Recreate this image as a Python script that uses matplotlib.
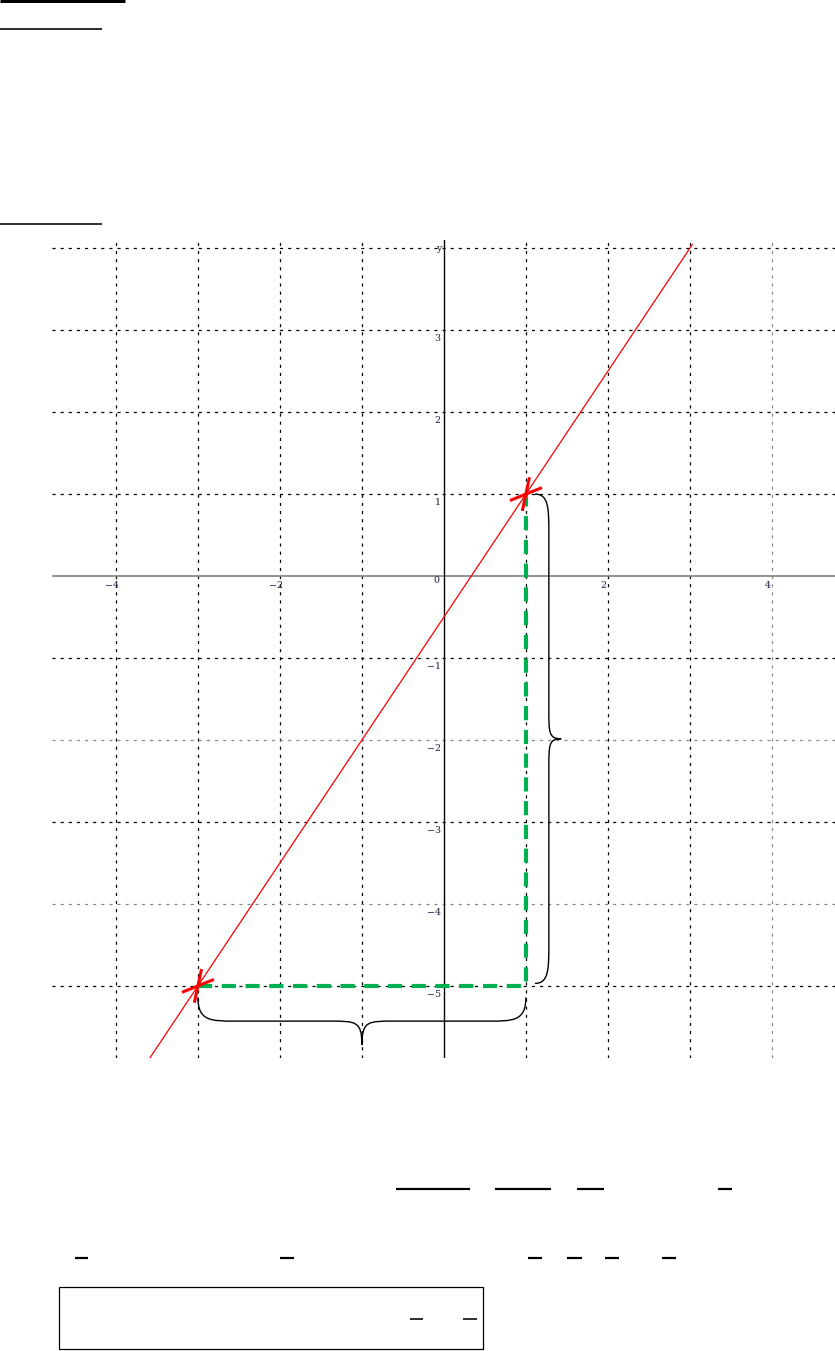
import numpy as np
import matplotlib
matplotlib.use("Agg")
import matplotlib.pyplot as plt
from matplotlib.lines import Line2D
from matplotlib.patches import PathPatch, Rectangle
from matplotlib.path import Path

W, H = 835, 1351

# chart data
x_ticks = [-4, -3, -2, -1, 1, 2, 3, 4]
y_ticks = [-5, -4, -3, -2, -1, 1, 2, 3, 4]
x_labels = {-4: "\u22124", -2: "\u22122", 2: "2", 4: "4"}
y_labels = {-5: "\u22125", -4: "\u22124", -3: "\u22123", -2: "\u22122", -1: "\u22121",
            1: "1", 2: "2", 3: "3"}
grey_x = [4]
grey_y = [-2, -4]
pts_x = [-3, 1]
pts_y = [-5, 1]
line_x = [-3.62, 3.03]
corner = (1, -5)

# page layout (pixels): remaining rules / fraction bars of the worksheet
rules = [(0, 125, 1, 3.0), (0, 102, 29, 1.6), (0, 102, 224, 1.6)]
bars_row1 = [(396, 470), (495, 551), (577, 604), (718, 732)]
bars_row2 = [(75, 88), (280, 294), (528, 542), (567, 582), (605, 619), (662, 676)]
bars_box = [(410, 423), (463, 477)]


def fx(px):
    return px / W


def fy(py):
    return 1 - py / H


def hline(fig, x0, x1, y, lw):
    fig.add_artist(Line2D([fx(x0), fx(x1)], [fy(y), fy(y)], color="black",
                          lw=lw * 72 / 100, solid_capstyle="butt"))


def brace(ax, p0, p1, tip_dir, d_flat, d_tip, r, r_tip, **kw):
    p0, p1 = np.array(p0, float), np.array(p1, float)
    u = (p1 - p0) / np.linalg.norm(p1 - p0)
    n = np.array(tip_dir, float)
    L = np.linalg.norm(p1 - p0)
    def P(s, t):
        return p0 + u * s + n * t
    verts = [P(0, 0), P(0, d_flat), P(r * 0.35, d_flat), P(r, d_flat),
             P(L / 2 - r_tip, d_flat), P(L / 2 - r_tip * 0.2, d_flat), P(L / 2, d_flat), P(L / 2, d_tip),
             P(L / 2, d_flat), P(L / 2 + r_tip * 0.2, d_flat), P(L / 2 + r_tip, d_flat),
             P(L - r, d_flat), P(L - r * 0.35, d_flat), P(L, d_flat), P(L, 0)]
    codes = [Path.MOVETO, Path.CURVE4, Path.CURVE4, Path.CURVE4,
             Path.LINETO, Path.CURVE4, Path.CURVE4, Path.CURVE4,
             Path.CURVE4, Path.CURVE4, Path.CURVE4,
             Path.LINETO, Path.CURVE4, Path.CURVE4, Path.CURVE4]
    ax.add_patch(PathPatch(Path(verts, codes), fill=False, **kw))


fig = plt.figure(figsize=(W / 100, H / 100), dpi=100)

for x0, x1, y, lw in rules:
    hline(fig, x0, x1, y, lw)
for x0, x1 in bars_row1:
    hline(fig, x0, x1, 1189, 2.2)
for x0, x1 in bars_row2:
    hline(fig, x0, x1, 1258, 2.2)
for x0, x1 in bars_box:
    hline(fig, x0, x1, 1319, 1.6)
fig.add_artist(Rectangle((fx(59), fy(1349)), fx(483) - fx(59), fy(1287) - fy(1349),
                         fill=False, ec="black", lw=0.9))

ax = fig.add_axes([fx(52), fy(1058), fx(835) - fx(52), fy(240) - fy(1058)])
ax.set_xlim(-4.78, 4.77)
ax.set_ylim(-5.88, 4.10)
ax.axis("off")

dots = (0, (2.5, 4))
for x in x_ticks:
    ax.axvline(x, color="#888888" if x in grey_x else "black", lw=0.9, ls=dots, zorder=1)
for y in y_ticks:
    ax.axhline(y, color="#888888" if y in grey_y else "black", lw=0.9, ls=dots, zorder=1)
ax.axhline(0, color="#808080", lw=1.2, zorder=2)
ax.axvline(0, color="black", lw=1.0, zorder=2)

tick_kw = dict(fontsize=6.8, color="#1c1c44", family="DejaVu Serif")
for x, s in x_labels.items():
    ax.text(x - 0.05, -0.12, s, ha="center", va="center", **tick_kw)
for y, s in y_labels.items():
    ax.text(-0.04, y - 0.1, s, ha="right", va="center", **tick_kw)
ax.text(-0.05, -0.06, "0", ha="right", va="center", **tick_kw)
ax.text(-0.03, 4.0, "y", ha="right", va="center", **tick_kw)

# red line through the two points
slope = (pts_y[1] - pts_y[0]) / (pts_x[1] - pts_x[0])
icpt = pts_y[0] - slope * pts_x[0]
lx = np.array(line_x)
ax.plot(lx, slope * lx + icpt, color="red", lw=0.9, zorder=4)

# green dashed steps
ax.plot([pts_x[0], corner[0], pts_x[1]], [pts_y[0], corner[1], pts_y[1]],
        color="#00b050", lw=3, dashes=(3.4, 2.3), zorder=3)

# red crosses
hl = 0.21
for px, py in zip(pts_x, pts_y):
    for ang in (22, 78):
        a = np.radians(ang)
        ax.plot([px - hl * np.cos(a), px + hl * np.cos(a)],
                [py - hl * np.sin(a), py + hl * np.sin(a)],
                color="red", lw=2.2, solid_capstyle="butt", zorder=5)

# braces
brace(ax, (pts_x[0], pts_y[0] - 0.14), (corner[0], corner[1] - 0.14), (0, -1),
      0.29, 0.58, 0.45, 0.38, ec="black", lw=1.0, zorder=4)
brace(ax, (corner[0] + 0.11, pts_y[1]), (corner[0] + 0.11, corner[1] + 0.03), (1, 0),
      0.17, 0.32, 0.5, 0.35, ec="black", lw=1.0, zorder=4)

fig.savefig("out.png", dpi=100)
